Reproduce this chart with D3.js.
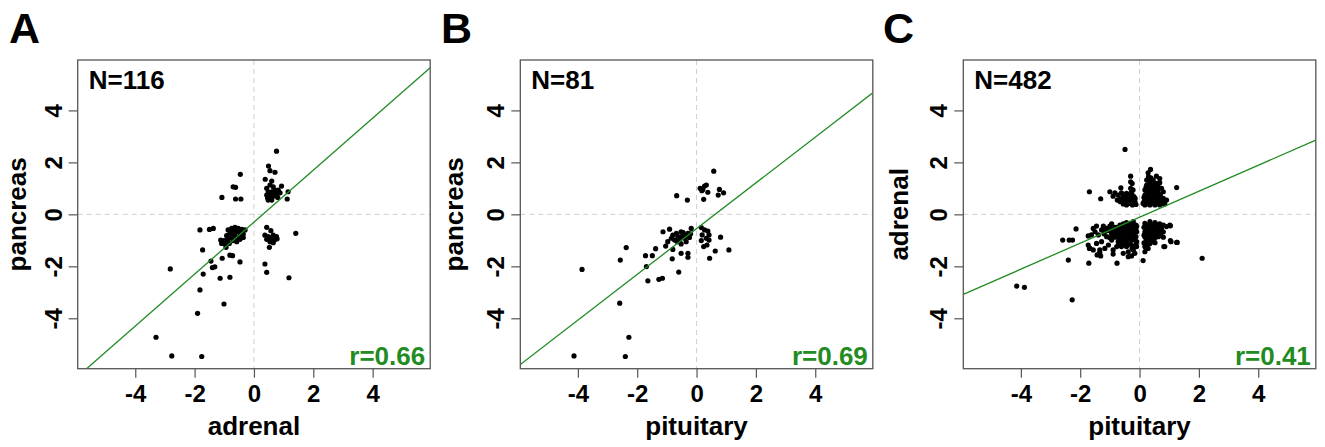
<!DOCTYPE html>
<html>
<head>
<meta charset="utf-8">
<script src="https://cdn.jsdelivr.net/npm/d3@7"></script>
<style>
  body { margin: 0; background: #fff; }
  svg text { font-family: "Liberation Sans", Arial, sans-serif; font-weight: bold; }
</style>
</head>
<body>
<div class="chart-output"></div>
<script>
// values: [x, y] for every dot
var pointsA = [
  [0.76,2.43],[0.49,1.86],[0.54,1.68],[0.71,1.62],[0.38,1.35],[0.6,1.28],[0.54,1.13],[0.65,1.06],[0.93,1.09],
  [0.43,1.0],[0.48,0.87],[0.6,0.87],[0.71,0.93],[0.82,0.93],[0.43,0.74],[0.54,0.68],[0.65,0.70],[0.76,0.77],
  [0.88,0.83],[1.15,0.87],[0.48,0.55],[0.6,0.55],[1.12,0.59],[0.52,0.78],[0.7,0.8],[0.58,0.62],[0.46,0.64],[0.8,0.65],
  [-0.46,1.54],[-0.7,1.06],[-0.62,1.04],[-1.08,0.65],[-0.62,0.59],[-0.44,0.59],
  [0.43,-0.5],[0.57,-0.63],[0.37,-0.8],[0.48,-0.86],[0.65,-0.8],[0.76,-0.86],[0.43,-0.96],[0.6,-0.99],[0.7,-0.96],
  [0.78,-0.94],[0.54,-1.05],[0.65,-1.09],[0.52,-1.27],[1.41,-0.73],[0.37,-1.91],[0.43,-2.23],[1.18,-2.44],[0.55,-0.9],[0.68,-1.0],
  [-1.82,-0.6],[-1.5,-0.58],[-1.37,-0.54],[-0.87,-0.6],[-0.75,-0.54],[-0.64,-0.5],[-0.53,-0.54],[-0.41,-0.58],
  [-0.81,-0.73],[-0.70,-0.67],[-0.58,-0.67],[-0.47,-0.71],[-0.36,-0.76],[-0.92,-0.82],[-0.75,-0.86],[-0.64,-0.82],
  [-0.53,-0.89],[-0.36,-0.89],[-1.12,-0.99],[-1.01,-1.01],[-0.9,-0.99],[-1.09,-1.12],[-0.98,-1.15],[-0.83,-1.12],
  [-0.7,-1.01],[-0.58,-1.05],[-0.47,-0.96],[-0.94,-1.27],[-1.73,-1.37],[-1.07,-1.69],[-0.81,-1.57],[-0.72,-1.59],
  [-0.47,-1.83],[-1.45,-1.8],[-1.4,-2.05],[-1.32,-2.02],[-1.71,-2.3],[-1.14,-2.46],[-0.81,-2.42],[-0.6,-0.6],
  [-0.5,-0.62],[-0.68,-0.78],[-0.45,-0.8],[-0.85,-0.92],[-0.62,-0.95],[-0.3,-0.6],
  [-2.82,-2.10],[-1.82,-2.91],[-1.01,-3.45],[-1.9,-3.81],[-3.30,-4.73],[-2.77,-5.45],[-1.76,-5.47]
];
var pointsB = [
  [0.58,1.66],[0.33,1.13],[0.27,1.09],[0.12,1.0],[0.21,0.96],[0.18,0.91],[0.38,0.85],[0.77,0.96],[0.73,0.74],
  [0.91,0.83],[0.24,0.58],[-0.67,0.72],[-0.31,0.55],
  [0.16,-0.51],[0.27,-0.6],[0.38,-0.64],[0.19,-0.79],[0.42,-0.79],[0.33,-0.92],[0.42,-0.99],[0.16,-1.01],
  [0.35,-1.18],[0.24,-1.24],[0.81,-0.88],[0.63,-1.41],[0.44,-1.69],[1.09,-1.37],
  [-1.13,-0.67],[-0.91,-0.57],[-0.80,-0.80],[-0.68,-0.73],[-0.63,-0.86],[-0.52,-0.67],[-0.46,-0.80],[-0.40,-0.92],
  [-0.29,-0.73],[-0.24,-0.89],[-0.18,-0.54],[-0.57,-0.99],[-0.74,-0.99],[-0.35,-1.05],[-0.85,-0.92],[-0.97,-1.05],
  [-1.04,-1.22],[-0.80,-1.35],[-0.52,-1.14],[-0.29,-1.5],[-0.29,-1.65],[-0.52,-1.5],[-0.82,-1.71],[-0.6,-2.22],
  [-1.38,-1.32],[-1.49,-1.59],[-1.72,-1.59],[-1.69,-2.01],[-2.37,-1.28],[-2.57,-1.76],[-1.15,-2.46],[-1.27,-2.5],
  [-1.64,-2.56],[-0.45,-0.7],[-0.35,-0.82],[-0.55,-0.88],[-0.2,-0.75],[-0.65,-1.05],
  [-3.86,-2.12],[-2.59,-3.42],[-2.28,-4.73],[-4.13,-5.45],[-2.40,-5.47]
];
var pointsC = [
  [-0.49,2.5],[-4.14,-2.76],[-3.88,-2.81],[-2.27,-3.29],[-2.40,-1.76],[-1.71,-1.88],[-0.76,-1.88],[0.12,-1.78],
  [2.11,-1.69],[-1.69,0.87],[-1.31,0.6],[-2.14,-0.56],[-2.59,-0.99],[-2.37,-0.99],[-2.26,-0.99],[1.25,1.03],
  [1.04,-0.44],[1.06,-1.05],[1.25,-1.08],[0.82,-1.24],[-1.43,-1.56],[-1.34,-1.46],[-1.69,-1.31],[-1.73,-0.83],
  [-1.0,0.87],[-0.83,0.83],[-0.89,0.70],[-0.72,0.74],[-0.63,1.02],[-0.61,0.83],[-0.55,0.68],[-0.75,0.55],
  [-0.66,0.49],[-0.49,0.55],[-0.44,0.62],[-0.38,0.42],[-0.27,0.49],[-0.33,0.74],[-0.30,1.0],[-0.30,1.25],
  [-0.30,1.47],[-0.16,0.55],[-0.12,0.38],[-0.24,0.36],[-0.44,0.36],[-0.55,0.40],[-0.19,0.68],[-0.44,0.81],
  [-0.22,0.94],[-0.25,1.19],[-0.35,0.55],[-0.5,0.45],[-0.6,0.58],[-0.28,0.62],[-0.2,0.45],[-0.4,0.5],[-0.15,0.45],
  [-0.45,0.45],[-0.3,0.42],[-0.2,0.55],[-0.35,0.65],[-0.5,0.62],[-0.65,0.6],[-0.25,0.75],[-0.4,0.72],
  [-0.15,0.62],[-0.55,0.5],[-0.28,0.85],
  [0.37,1.73],[0.29,1.6],[0.57,1.47],[0.68,1.38],[0.24,1.32],[0.35,1.26],[0.46,1.32],[0.57,1.19],[0.68,1.22],
  [0.24,1.13],[0.40,1.06],[0.52,1.04],[0.63,1.06],[0.74,1.0],[0.18,0.94],[0.29,0.87],[0.46,0.87],[0.63,0.83],
  [0.80,0.87],[0.18,0.74],[0.35,0.68],[0.52,0.68],[0.68,0.68],[0.80,0.62],[0.91,0.55],[0.18,0.55],[0.29,0.45],
  [0.46,0.42],[0.63,0.49],[0.74,0.42],[0.85,0.40],[0.18,0.36],[0.35,0.36],[0.52,0.36],[0.68,0.36],[0.12,0.42],
  [0.3,0.6],[0.42,0.55],[0.55,0.55],[0.4,0.78],[0.55,0.9],[0.3,1.0],[0.25,0.65],[0.6,0.62],[0.4,0.45],[0.2,0.5],
  [0.7,0.55],[0.45,1.15],[0.35,0.95],
  [0.22,0.4],[0.3,0.52],[0.38,0.62],[0.5,0.5],[0.6,0.42],[0.72,0.48],[0.22,0.62],[0.3,0.78],[0.45,0.7],
  [0.58,0.75],[0.7,0.75],[0.25,0.85],[0.38,0.88],[0.5,0.8],[0.22,1.05],[0.32,1.15],[0.5,0.95],[0.62,0.95],
  [0.15,0.48],[0.15,0.65],[0.8,0.48],[0.38,1.4],[0.3,1.45],
  [-1.56,-0.54],[-1.45,-0.45],[-1.50,-0.67],[-1.62,-0.79],[-1.39,-0.79],[-1.28,-0.60],[-1.22,-0.45],[-1.11,-0.54],
  [-1.0,-0.45],[-0.89,-0.60],[-0.94,-0.37],[-0.77,-0.50],[-0.66,-0.41],[-0.55,-0.37],[-0.44,-0.32],[-0.33,-0.35],
  [-0.21,-0.28],[-0.12,-0.41],[-0.27,-0.54],[-0.38,-0.67],[-0.49,-0.60],[-0.61,-0.73],[-0.72,-0.79],[-0.83,-0.88],
  [-0.94,-0.99],[-0.72,-1.05],[-0.55,-0.96],[-0.38,-0.88],[-0.21,-0.79],[-0.10,-0.67],[-0.16,-0.99],[-0.33,-1.12],
  [-0.44,-1.24],[-0.61,-1.24],[-0.10,-1.24],[-0.21,-1.37],[-0.38,-1.44],[-0.55,-1.5],[-0.89,-1.37],[-1.17,-1.31],
  [-1.34,-1.37],[-1.56,-1.37],[-1.67,-1.31],[-1.73,-1.18],[-1.31,-1.60],[-0.89,-1.53],[-0.38,-1.63],[-0.27,-1.60],
  [-0.10,-0.47],[-0.77,-1.24],[-1.05,-1.18],[-1.28,-1.05],[-1.45,-1.12],[-1.11,-0.86],[-0.44,-0.92],[-0.27,-0.99],
  [-0.12,-0.86],[-0.10,-1.05],[-0.16,-0.47],[-0.21,-0.73],[-0.19,-1.24],[-0.16,-1.5],
  [-0.5,-0.5],[-0.3,-0.6],[-0.4,-0.78],[-0.25,-0.88],[-0.6,-0.85],[-0.5,-1.05],[-0.3,-1.0],[-0.45,-0.42],
  [-0.65,-0.6],[-0.8,-0.7],[-0.2,-0.6],[-0.35,-0.5],[-0.15,-0.7],[-0.7,-0.92],[-0.28,-1.18],[-0.5,-1.15],
  [-0.95,-0.75],[-1.05,-0.62],[-0.85,-0.5],[-1.2,-0.75],
  [-0.55,-0.45],[-0.45,-0.55],[-0.35,-0.65],[-0.25,-0.45],[-0.15,-0.55],[-0.6,-0.65],[-0.7,-0.55],[-0.8,-0.6],
  [-0.9,-0.8],[-0.65,-0.95],[-0.55,-0.8],[-0.45,-1.0],[-0.35,-0.95],[-0.2,-0.9],[-0.12,-1.15],[-0.3,-0.8],
  [-0.4,-1.1],[-0.6,-1.1],[-0.75,-0.65],[-0.85,-0.8],[-1.0,-0.9],[-0.95,-0.55],[-1.15,-0.65],[-0.25,-0.7],
  [-0.5,-0.7],[-0.12,-0.6],[-0.7,-1.15],[-0.25,-1.3],
  [0.18,-0.35],[0.35,-0.28],[0.52,-0.32],[0.68,-0.37],[0.80,-0.41],[0.24,-0.50],[0.40,-0.47],[0.57,-0.54],
  [0.74,-0.54],[0.91,-0.47],[1.02,-0.41],[0.18,-0.67],[0.35,-0.71],[0.52,-0.67],[0.68,-0.73],[0.80,-0.67],
  [0.18,-0.86],[0.29,-0.92],[0.46,-0.88],[0.63,-0.86],[0.80,-0.88],[0.24,-1.05],[0.35,-1.12],[0.52,-1.09],
  [0.18,-1.24],[0.29,-1.31],[0.18,-1.44],[0.85,-1.24],[1.04,-1.01],[1.27,-1.08],
  [0.3,-0.6],[0.45,-0.6],[0.6,-0.45],[0.25,-0.78],[0.4,-0.8],[0.55,-0.78],[0.3,-1.0],[0.45,-1.0],[0.2,-1.1],[0.65,-0.6],
  [0.22,-0.4],[0.3,-0.45],[0.45,-0.4],[0.62,-0.4],[0.7,-0.48],[0.28,-0.55],[0.38,-0.62],[0.5,-0.55],[0.6,-0.7],
  [0.22,-0.72],[0.3,-0.82],[0.45,-0.75],[0.52,-0.9],[0.35,-0.9],[0.22,-0.95],[0.4,-1.05],[0.28,-1.15],[0.22,-1.3],
  [0.72,-0.8],[0.15,-0.5],[0.15,-0.8],[0.15,-1.1]
];

var panelLetters = ["A", "B", "C"];
var xTitles = ["adrenal", "pituitary", "pituitary"];
var yTitles = ["pancreas", "pancreas", "adrenal"];
var nLabels = ["N=116", "N=81", "N=482"];
var rLabels = ["r=0.66", "r=0.69", "r=0.41"];
var fitIntercepts = [-0.3, -0.55, -0.11];
var fitSlopes = [1.0, 0.88, 0.5];
var tickValues = [-4, -2, 0, 2, 4];
var domain = [-5.94, 5.94];

var w = 1325;
var h = 447;
var boxW = 352.5, boxH = 308.7, boxTop = 60;
var boxLefts = [77.7, 520.3, 963.3];
var letterX = [9, 441, 883];
var yTitleOffset = [52, 57, 55];
var green = "#228B22";

var svg = d3.select(".chart-output")
    .append("svg")
    .attr("width", w)
    .attr("height", h);

var allPoints = [pointsA, pointsB, pointsC];

allPoints.forEach(function(pts, i) {
    var left = boxLefts[i];
    var x = d3.scaleLinear().domain(domain).range([left, left + boxW]);
    var y = d3.scaleLinear().domain(domain).range([boxTop + boxH, boxTop]);

    svg.append("text")
        .attr("x", letterX[i]).attr("y", 43)
        .style("font-size", "43px")
        .text(panelLetters[i]);

    var clipId = "clip" + i;
    svg.append("clipPath").attr("id", clipId)
        .append("rect")
        .attr("x", left).attr("y", boxTop)
        .attr("width", boxW).attr("height", boxH);

    // zero reference lines
    svg.append("line")
        .attr("x1", x(0)).attr("x2", x(0))
        .attr("y1", boxTop).attr("y2", boxTop + boxH)
        .attr("stroke", "#cfcfcf").attr("stroke-dasharray", "5,4");
    svg.append("line")
        .attr("x1", left).attr("x2", left + boxW)
        .attr("y1", y(0)).attr("y2", y(0))
        .attr("stroke", "#cfcfcf").attr("stroke-dasharray", "5,4");

    svg.append("g")
        .selectAll("circle")
        .data(pts)
        .enter()
        .append("circle")
        .attr("cx", function(d) { return x(d[0]); })
        .attr("cy", function(d) { return y(d[1]); })
        .attr("r", 2.6)
        .attr("fill", "#000");

    // regression line
    svg.append("line")
        .attr("clip-path", "url(#" + clipId + ")")
        .attr("x1", x(domain[0])).attr("y1", y(fitIntercepts[i] + fitSlopes[i] * domain[0]))
        .attr("x2", x(domain[1])).attr("y2", y(fitIntercepts[i] + fitSlopes[i] * domain[1]))
        .attr("stroke", green).attr("stroke-width", 1.3);

    svg.append("rect")
        .attr("x", left).attr("y", boxTop)
        .attr("width", boxW).attr("height", boxH)
        .attr("fill", "none").attr("stroke", "#555").attr("stroke-width", 1.3);

    var xAxis = svg.append("g")
        .attr("transform", "translate(0," + (boxTop + boxH) + ")")
        .call(d3.axisBottom(x).tickValues(tickValues).tickSize(9));
    xAxis.select(".domain").remove();
    xAxis.selectAll("line").attr("stroke", "#555").attr("stroke-width", 1.2);
    xAxis.selectAll("text")
        .attr("fill", "#000")
        .attr("dy", null).attr("y", 33)
        .style("font-size", "24px")
        .text(function(d) { return d < 0 ? "-" + Math.abs(d) : d; });

    var yAxis = svg.append("g")
        .attr("transform", "translate(" + left + ",0)")
        .call(d3.axisLeft(y).tickValues(tickValues).tickSize(9));
    yAxis.select(".domain").remove();
    yAxis.selectAll("line").attr("stroke", "#555").attr("stroke-width", 1.2);
    yAxis.selectAll("text")
        .attr("fill", "#000")
        .attr("x", null).attr("dy", null)
        .attr("text-anchor", "middle")
        .attr("transform", "translate(-16,0) rotate(-90)")
        .style("font-size", "24px")
        .text(function(d) { return d < 0 ? "-" + Math.abs(d) : d; });

    svg.append("text")
        .attr("x", left + boxW / 2).attr("y", 435)
        .attr("text-anchor", "middle")
        .style("font-size", "26px")
        .text(xTitles[i]);

    svg.append("text")
        .attr("transform", "translate(" + (left - yTitleOffset[i]) + "," + (boxTop + boxH / 2) + ") rotate(-90)")
        .attr("text-anchor", "middle")
        .style("font-size", "26px")
        .text(yTitles[i]);

    svg.append("text")
        .attr("x", left + 11).attr("y", 89)
        .style("font-size", "26px")
        .text(nLabels[i]);

    svg.append("text")
        .attr("x", left + boxW - 5).attr("y", 365)
        .attr("text-anchor", "end")
        .style("font-size", "26px")
        .attr("fill", green)
        .text(rLabels[i]);
});
</script>
</body>
</html>
